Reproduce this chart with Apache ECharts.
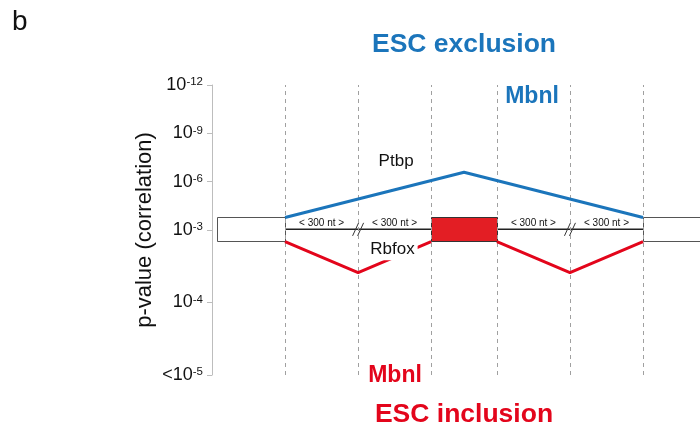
<!DOCTYPE html>
<html>
<head>
<meta charset="utf-8">
<script src="https://cdn.jsdelivr.net/npm/echarts@6/dist/echarts.min.js"></script>
<style>
  html, body { margin: 0; padding: 0; background: #fff; }
  #chart { width: 700px; height: 429px; }
</style>
</head>
<body>
<div id="chart"></div>
<script>
// ---- Gene model (schematic position units) ----
const exonStart = [0.07, 3, 5.9];
const exonEnd = [1, 3.9, 6.8];
const intronStart = [1, 3.9];
const intronEnd = [3, 5.9];
const regionBounds = [1, 2, 3, 3.9, 4.9, 5.9];
const breakAt = [2, 4.9];
const ntLabelAt = [1.5, 2.5, 4.4, 5.4];
const ntLabelText = '< 300 nt >';

// ---- Correlation signal (display units: 0 = p 10^-3, up = exclusion, down = inclusion) ----
const exclusionX = [1, 3.45, 5.9];
const exclusionY = [0.78, 3.58, 0.78];
const inclusionX = [1, 2, 3, 3.9, 4.9, 5.9];
const inclusionY = [-0.72, -2.65, -0.72, -0.72, -2.65, -0.72];

// ---- Y axis ticks ----
const tickPos = [9, 6, 3, 0, -4.5, -9];
const tickBase = ['10', '10', '10', '10', '10', '<10'];
const tickExp = ['-12', '-9', '-6', '-3', '-4', '-5'];

// ---- Factor labels ----
const factorNames = ['Ptbp', 'Rbfox'];
const factorX = [2.52, 2.47];
const factorY = [4.25, -1.22];

// ---- Styling ----
const FONT = '"Liberation Sans", Arial, Helvetica, sans-serif';
const BLUE = '#1b75bb';
const RED = '#e3051b';
const EXON_FILL = '#e31e24';
const BOX_TOP = 0.78;
const BOX_BOTTOM = -0.72;
const INTRON_Y = 0.04;

const chart = echarts.init(document.getElementById('chart'), null, { renderer: 'canvas' });

const exonData = exonStart.map((s, i) => [s, exonEnd[i], i]);
const intronData = [];
intronStart.forEach((s, i) => {
  if (i > 0) intronData.push('-');
  intronData.push([s, INTRON_Y], [intronEnd[i], INTRON_Y]);
});
const inclusionData = [];
inclusionX.forEach((x, i) => {
  if (i === 3) inclusionData.push('-');
  inclusionData.push([x, inclusionY[i]]);
});

function centeredText(text, x, y, fill, font) {
  return {
    type: 'text',
    style: { text, x, y, fill, font, align: 'center', verticalAlign: 'middle', textAlign: 'center', textVerticalAlign: 'middle' }
  };
}

const option = {
  animation: false,
  backgroundColor: '#fff',
  grid: { left: 212, right: 0, top: 85, bottom: 54, containLabel: false },
  xAxis: {
    type: 'value', min: 0, max: 6.68, show: false
  },
  yAxis: {
    type: 'value', min: -9, max: 9,
    name: 'p-value (correlation)',
    nameLocation: 'middle', nameRotate: 90, nameGap: 56,
    nameMoveOverlap: false,
    nameTextStyle: { fontSize: 22, color: '#111', fontFamily: FONT },
    axisLine: { show: true, lineStyle: { color: '#bdbdbd', width: 1 } },
    axisTick: { show: true, customValues: tickPos, length: 5, lineStyle: { color: '#bdbdbd' } },
    splitLine: { show: false },
    axisLabel: {
      customValues: tickPos,
      margin: 9,
      formatter: function (v) {
        const i = tickPos.findIndex(p => Math.abs(p - v) < 1e-6);
        if (i < 0) return '';
        return '{b|' + tickBase[i] + '}{s|' + tickExp[i] + '}';
      },
      rich: {
        b: { fontSize: 18, color: '#111', fontFamily: FONT },
        s: { fontSize: 11.5, color: '#111', fontFamily: FONT, verticalAlign: 'top' }
      }
    }
  },
  graphic: [
    { type: 'text', style: { text: 'b', x: 12, y: 22, fill: '#111', font: '28px ' + FONT, align: 'left', verticalAlign: 'middle', textAlign: 'left', textVerticalAlign: 'middle' } },
    centeredText('ESC exclusion', 464, 45, BLUE, 'bold 26.5px ' + FONT),
    centeredText('Mbnl', 532, 97, BLUE, 'bold 23px ' + FONT),
    centeredText('Mbnl', 395, 376, RED, 'bold 23px ' + FONT),
    centeredText('ESC inclusion', 464, 415, RED, 'bold 26.5px ' + FONT)
  ],
  series: [
    {
      // introns, with region boundaries as dashed guides
      type: 'line',
      data: intronData,
      symbol: 'none',
      z: 2,
      lineStyle: { color: '#222', width: 1.5 },
      markLine: {
        silent: true,
        symbol: 'none',
        label: { show: false },
        lineStyle: { color: '#a0a0a0', type: [4, 4], width: 1 },
        data: regionBounds.map(x => ({ xAxis: x }))
      }
    },
    {
      // exon boxes
      type: 'custom',
      z: 3,
      clip: true,
      data: exonData,
      renderItem: function (params, api) {
        const p0 = api.coord([api.value(0), BOX_TOP]);
        const p1 = api.coord([api.value(1), BOX_BOTTOM]);
        const alt = api.value(2) === 1;
        return {
          type: 'rect',
          shape: { x: Math.round(p0[0]) + 0.5, y: Math.round(p0[1]) + 0.5, width: Math.round(p1[0] - p0[0]), height: Math.round(p1[1] - p0[1]) },
          style: { fill: alt ? EXON_FILL : '#fff', stroke: alt ? '#333' : '#555', lineWidth: 1 }
        };
      }
    },
    {
      // intron break marks
      type: 'custom',
      z: 4,
      data: breakAt.map(x => [x, INTRON_Y]),
      renderItem: function (params, api) {
        const c = api.coord([api.value(0), api.value(1)]);
        const seg = (dx) => ({
          type: 'line',
          shape: { x1: c[0] + dx - 3, y1: c[1] + 6.5, x2: c[0] + dx + 3, y2: c[1] - 6.5 },
          style: { stroke: '#333', lineWidth: 1 }
        });
        return { type: 'group', children: [seg(-2.5), seg(2.5)] };
      }
    },
    {
      // intron length labels
      type: 'scatter',
      z: 5,
      symbolSize: 0,
      itemStyle: { opacity: 1 },
      data: ntLabelAt.map(x => [x, INTRON_Y]),
      label: {
        show: true, position: 'top', distance: 1,
        formatter: ntLabelText,
        fontSize: 10, color: '#111', fontFamily: FONT
      }
    },
    {
      type: 'line',
      name: 'exclusion',
      z: 6,
      data: exclusionX.map((x, i) => [x, exclusionY[i]]),
      symbol: 'none',
      lineStyle: { color: BLUE, width: 3 }
    },
    {
      type: 'line',
      name: 'inclusion',
      z: 6,
      data: inclusionData,
      symbol: 'none',
      lineStyle: { color: RED, width: 3 }
    },
    {
      // splicing factor names
      type: 'scatter',
      z: 8,
      symbolSize: 0,
      itemStyle: { opacity: 1 },
      data: factorNames.map((n, i) => ({ name: n, value: [factorX[i], factorY[i]] })),
      label: {
        show: true, position: 'inside',
        formatter: '{b}',
        fontSize: 17, color: '#111', fontFamily: FONT,
        backgroundColor: '#fff', padding: [2, 3]
      }
    }
  ]
};

chart.setOption(option);
</script>
</body>
</html>
